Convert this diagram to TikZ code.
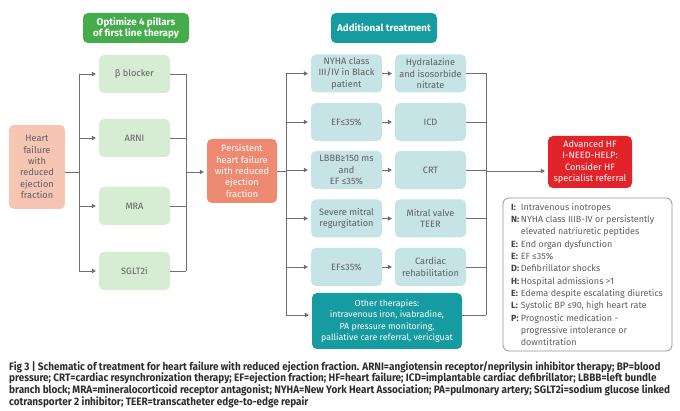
\documentclass[tikz,border=0pt]{standalone}
\usepackage{fontspec}
\setmainfont{Fira Sans}
\newfontfamily\capfont[FakeStretch=0.92]{Fira Sans}
\usetikzlibrary{arrows.meta}
\definecolor{hdrgreen}{RGB}{68,172,74}
\definecolor{pillarg}{RGB}{214,236,211}
\definecolor{hfpink}{RGB}{246,197,180}
\definecolor{salmon}{RGB}{238,138,114}
\definecolor{teal}{RGB}{22,155,160}
\definecolor{lteal}{RGB}{198,227,229}
\definecolor{advred}{RGB}{226,36,42}
\definecolor{txtgray}{RGB}{95,95,95}
\definecolor{linegray}{RGB}{110,110,110}
\definecolor{boxgray}{RGB}{150,150,150}
\definecolor{capgray}{RGB}{45,45,45}
\begin{document}
\begin{tikzpicture}[x=1pt,y=-1pt,
  box/.style={rounded corners=5pt, align=center, inner sep=1pt, text=txtgray,
    font=\fontsize{9.2}{11.3}\selectfont},
  pillar/.style={box, fill=pillarg, minimum width=71pt, minimum height=38pt},
  cond/.style={box, fill=lteal, minimum width=71pt, minimum height=38pt},
  hdr/.style={box, text=white, font=\bfseries\fontsize{9.8}{11.5}\selectfont,
    minimum width=106pt, minimum height=30pt},
  con/.style={draw=linegray, line width=0.8pt},
  arr/.style={con, -{Triangle[length=4pt,width=4.5pt]}, shorten >=3pt}
]
\useasboundingbox (0,0) rectangle (680,411);
\fill[white] (0,0) rectangle (680,411);

% headers
\node[hdr, fill=hdrgreen] (opt) at (136,28) {Optimize 4 pillars\\of first line therapy};
\node[hdr, fill=teal] (add) at (384,28) {Additional treatment};

% left column
\node[box, fill=hfpink, minimum width=56pt, minimum height=84pt] (hf) at (37,167)
  {Heart\\failure\\with\\reduced\\ejection\\fraction};
\node[pillar] (beta) at (134.5,74) {β blocker};
\node[pillar] (arni) at (134.5,138) {ARNI};
\node[pillar] (mra) at (134.5,206) {MRA};
\node[pillar] (sglt) at (134.5,271) {SGLT2i};

\node[box, fill=salmon, text=white, minimum width=70pt, minimum height=64pt] (pers) at (242,171)
  {Persistent\\heart failure\\with reduced\\ejection\\fraction};

% additional treatment rows
\node[cond] (c1) at (346.5,73.5) {NYHA class\\III/IV in Black\\patient};
\node[cond] (t1) at (430.5,73.5) {Hydralazine\\and isosorbide\\nitrate};
\node[cond] (c2) at (346.5,122) {EF≤35\%};
\node[cond] (t2) at (430.5,122) {ICD};
\node[cond] (c3) at (346.5,170) {LBBB≥150 ms\\and\\EF ≤35\%};
\node[cond] (t3) at (430.5,170) {CRT};
\node[cond] (c4) at (346.5,218.5) {Severe mitral\\regurgitation};
\node[cond] (t4) at (430.5,218.5) {Mitral valve\\TEER};
\node[cond] (c5) at (346.5,267) {EF≤35\%};
\node[cond] (t5) at (430.5,267) {Cardiac\\rehabilitation};
\node[box, fill=teal, text=white, minimum width=150pt, minimum height=56pt,
  font=\fontsize{8.8}{11.3}\selectfont] (oth) at (387,321)
  {Other therapies:\\intravenous iron, ivabradine,\\PA pressure monitoring,\\palliative care referral, vericiguat};

% advanced HF
\node[box, fill=advred, text=white, minimum width=84pt, minimum height=52pt] (adv) at (590,162)
  {Advanced HF\\I-NEED-HELP:\\Consider HF\\specialist referral};

\draw[draw=boxgray, line width=0.8pt, rounded corners=6pt] (503,198) rectangle (672,351);
\node[anchor=north west, inner sep=0pt, align=left, text=txtgray,
  font=\fontsize{9}{12.3}\selectfont] (list) at (511,201.5)
{\begin{tabular}{@{}l@{\hspace{1.5pt}}l@{}}
\textcolor{txtgray!70!black}{\textbf{I:}} & Intravenous inotropes\\
\textcolor{txtgray!70!black}{\textbf{N:}} & NYHA class IIIB-IV or persistently\\
 & elevated natriuretic peptides\\
\textcolor{txtgray!70!black}{\textbf{E:}} & End organ dysfunction\\
\textcolor{txtgray!70!black}{\textbf{E:}} & EF ≤35\%\\
\textcolor{txtgray!70!black}{\textbf{D:}} & Defibrillator shocks\\
\textcolor{txtgray!70!black}{\textbf{H:}} & Hospital admissions >1\\
\textcolor{txtgray!70!black}{\textbf{E:}} & Edema despite escalating diuretics\\
\textcolor{txtgray!70!black}{\textbf{L:}} & Systolic BP ≤90, high heart rate\\
\textcolor{txtgray!70!black}{\textbf{P:}} & Prognostic medication -\\
 & progressive intolerance or\\
 & downtitration
\end{tabular}};

% bus coordinates
\coordinate (lb) at (79,172);
\coordinate (rb) at (186,172);
\coordinate (lb2) at (286,171);
\coordinate (ob) at (0,315);
\coordinate (rb2) at (486,171);

% connectors left part
\draw[con] (hf.east |- lb) -- (lb);
\draw[con] (lb |- beta) -- (lb |- sglt);
\foreach \n in {beta,arni,mra,sglt}{
  \draw[arr] (lb |- \n) -- (\n.west);
  \draw[con] (\n.east) -- (rb |- \n);
}
\draw[con] (rb |- beta) -- (rb |- sglt);
\draw[arr] (rb) -- (pers.west |- rb);

% connectors middle part
\draw[con] (pers.east |- lb2) -- (lb2);
\draw[con] (lb2 |- c1) -- (lb2 |- ob);
\foreach \i in {1,...,5}{
  \draw[arr] (lb2 |- c\i) -- (c\i.west);
  \draw[arr] (c\i.east) -- (t\i.west);
  \draw[con] (t\i.east) -- (rb2 |- t\i);
}
\draw[arr] (lb2 |- ob) -- (oth.west |- ob);
\draw[con] (oth.east |- ob) -- (rb2 |- ob);
\draw[con] (rb2 |- t1) -- (rb2 |- ob);
\draw[arr] (rb2) -- (adv.west |- rb2);

% caption
\node[anchor=north west, inner sep=0pt, align=left, text=capgray,
  font=\capfont\bfseries\fontsize{10.8}{11.7}\selectfont] (cap) at (9,361)
{Fig 3 | Schematic of treatment for heart failure with reduced ejection fraction. ARNI=angiotensin receptor/neprilysin inhibitor therapy; BP=blood\\
pressure; CRT=cardiac resynchronization therapy; EF=ejection fraction; HF=heart failure; ICD=implantable cardiac defibrillator; LBBB=left bundle\\
branch block; MRA=mineralocorticoid receptor antagonist; NYHA=New York Heart Association; PA=pulmonary artery; SGLT2i=sodium glucose linked\\
cotransporter 2 inhibitor; TEER=transcatheter edge-to-edge repair};
\end{tikzpicture}
\end{document}
